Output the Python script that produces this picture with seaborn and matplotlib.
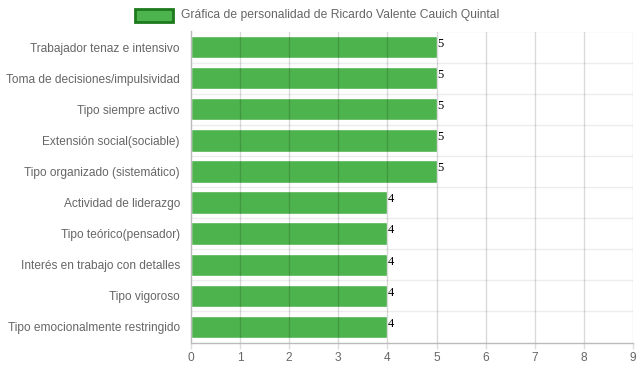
import matplotlib
matplotlib.use("Agg")
import matplotlib.pyplot as plt
from matplotlib.patches import Rectangle
import seaborn as sns
import pandas as pd
import numpy as np

categories = [
    "Trabajador tenaz e intensivo",
    "Toma de decisiones/impulsividad",
    "Tipo siempre activo",
    "Extensión social(sociable)",
    "Tipo organizado (sistemático)",
    "Actividad de liderazgo",
    "Tipo teórico(pensador)",
    "Interés en trabajo con detalles",
    "Tipo vigoroso",
    "Tipo emocionalmente restringido",
]
values = [5, 5, 5, 5, 5, 4, 4, 4, 4, 4]
series_name = "Gráfica de personalidad de Ricardo Valente Cauich Quintal"
x_ticks = [0, 1, 2, 3, 4, 5, 6, 7, 8, 9]

df = pd.DataFrame({"cat": categories, "val": values})

sns.set_theme(style="white")
plt.rcParams["font.family"] = ["Liberation Sans", "DejaVu Sans"]

W, H = 639, 372
fig = plt.figure(figsize=(W / 100, H / 100), dpi=100)
ax = fig.add_axes([191 / W, (H - 342.5) / H, (633 - 191) / W, (342.5 - 31.5) / H])

bar_color = "#4DB34D"
sns.barplot(data=df, y="cat", x="val", orient="h", color=bar_color,
            saturation=1, width=0.72, ax=ax, zorder=1)

ax.set_xlim(0, 9)
ax.set_ylim(len(categories) - 0.5, -0.5)
ax.set_xticks(x_ticks)
ax.set_xticklabels([str(t) for t in x_ticks])
ax.set_xlabel("")
ax.set_ylabel("")

# grid lines
for t in x_ticks[1:]:
    ax.axvline(t, color="#000000", alpha=0.15, lw=1, zorder=3)
for b in np.arange(-0.5, len(categories) - 0.5, 1.0):
    ax.axhline(b, color="#000000", alpha=0.07, lw=1, zorder=0.5)

for s in ["top", "right"]:
    ax.spines[s].set_visible(False)
ax.spines["left"].set_color("#bbbbbb")
ax.spines["bottom"].set_color("#bbbbbb")
ax.spines["left"].set_linewidth(1)
ax.spines["bottom"].set_linewidth(1)

ax.tick_params(axis="x", colors="#666666", labelsize=8.6, length=4, width=1,
               direction="out", pad=3, bottom=True, color="#dddddd")
ax.tick_params(axis="y", colors="#666666", labelsize=8.55, length=0, pad=8)
for lbl in ax.get_xticklabels() + ax.get_yticklabels():
    lbl.set_color("#666666")

# value labels
for i, v in enumerate(values):
    ax.annotate(str(v), xy=(v, i), xytext=(0.5, 2.3), textcoords="offset points",
                ha="left", va="center", fontsize=9, color="#000000",
                family=["Liberation Serif", "DejaVu Serif"], zorder=5)

# legend
fig.patches.append(Rectangle((135 / W, (H - 22) / H), 38 / W, 13 / H,
                             transform=fig.transFigure, facecolor=bar_color,
                             edgecolor="#1d7a1d", linewidth=2))
fig.text(181 / W, (H - 15) / H, series_name, ha="left", va="center",
         fontsize=8.7, color="#666666")

fig.savefig("out.png", dpi=100)
